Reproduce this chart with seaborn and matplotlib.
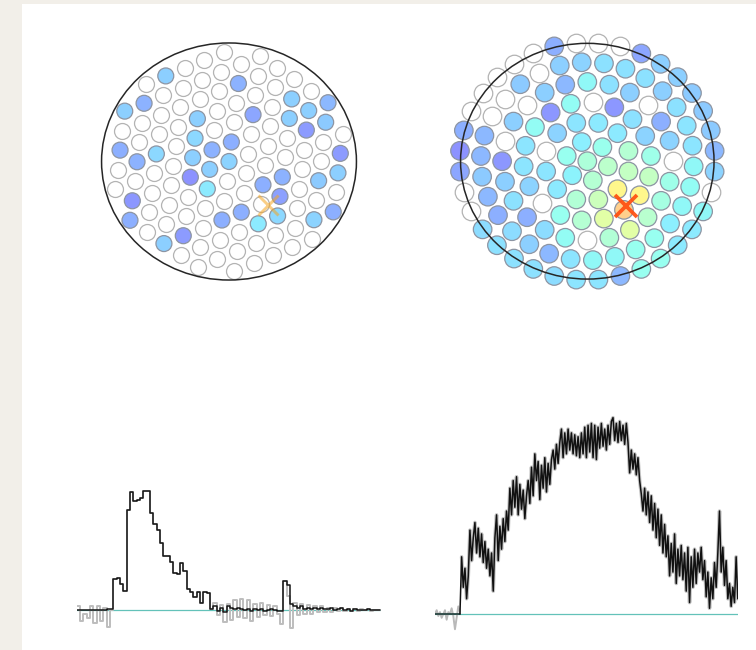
import numpy as np
import pandas as pd
import matplotlib.pyplot as plt
import seaborn as sns
from matplotlib.colors import ListedColormap
from matplotlib.patches import Circle, Rectangle

# ---------------- data ----------------
# left camera: hit pixels on the hex lattice (i, j) and their signal level (0..1 on jet)
left_hit_i = [-4, -5, -6, 0, 3, 5, 4, 1, -2, 3, 5, 4, -2, 0, -6, -1, -4, -5, -2, 0,
              6, -1, -2, 3, 6, 2, 5, -1, -5, 3, 1, 0, 3, 5, 6, -5, 2, -2, -3]
left_hit_j = [-6, -5, -5, -4, -2, -1, -1, -2, -3, -1, 0, 0, -2, -1, -3, -1, -2, -2, -1, 0,
              2, 0, 0, 2, 3, 2, 3, 1, 0, 3, 3, 3, 4, 5, 5, 1, 4, 3, 3]
left_hit_val = [.27, .21, .27, .21, .27, .22, .27, .18, .27, .27, .26, .16, .29, .20, .20, .21, .29, .21, .27, .28,
                .16, .27, .14, .21, .27, .20, .26, .33, .15, .17, .20, .20, .29, .28, .20, .20, .33, .16, .27]
left_core = (1.86, -2.22)

# right camera: concentric rings (ring k has 6k pixels), value per pixel, 0 = no signal
right_ring0 = [.44]
right_ring1 = [.39, .34, .38, .35, .46, .48]
right_ring2 = [.33, .33, .32, .28, 0, .32, .33, .45, .52, .66, .50, .46]
right_ring3 = [.31, .15, 0, .37, .15, .37, .32, .32, .28, 0, .38, .46, .58, .75, .66, .50, .40, .28]
right_ring4 = [0, .27, .31, .36, .22, .27, 0, .27, 0, .15, .27, .31, .20, .30, .37, 0,
               .45, .58, .47, .42, .40, 0, .28, .20]
right_ring5 = [.27, .31, .31, .31, .28, .27, 0, .26, 0, 0, .22, .22, .26, .22, .20,
               .30, .27, .22, .32, .36, .36, .38, .38, .34, .36, .37, .36, .32, .32, .31]
right_ring6 = [.27, .27, .18, 0, 0, 0, .20, 0, 0, 0, 0, 0, .20, .14, .18, 0, 0, .30,
               .31, .31, .31, .30, .32, .32, .22, .38, .38, .33, .33, .36, 0, .28, .22, .26, .26, .26]
right_core = (1.82, -2.27)

# left trace: cleaned signal (black) and raw samples (grey), one value per time bin
left_clean = [0, 0, 0, 0, 0, 0, 0, 0, 0, 0.5, 0.5, 26, 27, 22, 16, 84, 99, 91, 92, 94,
              100, 100, 81, 72, 67, 56, 45, 45, 40, 31, 30, 39, 33, 18, 15, 11, 15, 6, 15, 14,
              1, 3, -1, 2, -2, 3, 2, 1, 2, 1, 0, 1, -1, 1, 0, 1, -1, 0, 1, 0,
              -1, -1, 24, 21, 5, 3, 2, 3, 1, 2, 1, 2, 1, 2, 1, 1, 2, 0, 1, 2,
              0, 1, -1, 1, 0, 0, 0, 1, 0, 0, 0]
left_raw = [3, -9, -3, -7, 3, -11, 3, -9, 2, -14, 0, 26, 27, 22, 16, 84, 99, 91, 92, 94,
            100, 100, 81, 72, 67, 56, 45, 45, 40, 31, 30, 39, 33, 18, 15, 11, 15, 6, 15, 14,
            1, 6, -4, 4, -10, 5, -8, 8, -6, 9, -7, 8, -9, 5, -6, 6, -4, 4, -5, 3,
            -3, -12, 24, 12, -15, 6, -4, 5, -3, 4, -3, 3, -2, 3, -2, 2, -2, 2, -1, 2,
            -1, 1, -1, 1, -1, 1, 0, 1, -1, 0, 0]

# right trace: samples before the pulse (raw) and the pulse itself
right_pre_raw = [0, 2, -1, 1, -2, 0, 2, -3, 1, 0, 3, -1, -8, -2, 4, 1]
right_pulse = [30, 14, 24, 8, 20,
               44, 28, 40, 48, 32, 45, 30, 42, 27, 38, 24, 34, 20, 32, 12,
               40, 52, 28, 46, 34, 50, 38, 54, 44,
               66, 52, 70, 56, 72, 52, 68, 55, 65, 50, 62,
               70, 58, 77, 62, 84, 70, 80, 60, 78, 66, 82, 64, 79, 68, 81,
               86, 76, 89, 79, 90, 97, 82, 95, 84, 97, 86, 95, 84, 94, 83, 93, 82, 95, 84, 98,
               82, 99, 85, 100, 82, 99, 81, 98, 87, 100, 88, 97, 86, 99, 89, 101, 103, 91, 100, 90,
               101, 91, 99, 89, 100,
               90, 74, 86, 76, 84, 73, 82, 70,
               63, 54, 66, 52, 64, 48, 62, 44, 58, 40, 55, 36, 52, 32, 47, 30, 41, 20, 37, 22,
               42, 16, 34, 20, 36, 18, 32, 12, 35, 6, 30, 14, 34, 16, 32, 22, 35, 18, 28, 9,
               22, 3, 19, 8, 27, 14, 32, 54, 22, 35, 15, 28, 8, 16, 4, 14, 6, 30, 8]

# ---------------- styling ----------------
sns.set_theme(style='white')
jet = plt.get_cmap('jet')(np.linspace(0, 1, 256))
soft_jet = ListedColormap(1 - 0.45 * (1 - jet[:, :3]))

W, H = 756, 650
fig = plt.figure(figsize=(W / 100, H / 100), dpi=100)
fig.patch.set_facecolor('#f2efe9')
fig.add_artist(Rectangle((22 / W, 0), 1 - 22 / W, 1 - 4 / H, transform=fig.transFigure,
                         facecolor='white', edgecolor='none', zorder=0))


def px_axes(left, top, width, height):
    ax = fig.add_axes([left / W, 1 - (top + height) / H, width / W, height / H])
    ax.set_facecolor('none')
    ax.axis('off')
    return ax


def draw_camera(ax, df, size, radius, core, core_color, core_alpha, core_ms, core_mew):
    off = df[df.val <= 0]
    on = df[df.val > 0]
    sns.scatterplot(data=off, x='x', y='y', color='white', edgecolor='#b3b3b3',
                    linewidth=0.9, s=size, ax=ax, legend=False, zorder=2)
    sns.scatterplot(data=on, x='x', y='y', hue='val', palette=soft_jet, hue_norm=(0, 1),
                    edgecolor='#8d95a3', linewidth=0.9, s=size, ax=ax, legend=False, zorder=3)
    ax.add_patch(Circle((0, 0), radius, fill=False, edgecolor='#262626', lw=1.1, zorder=4))
    ax.plot(core[0], core[1], marker='x', ms=core_ms, mew=core_mew, color=core_color,
            alpha=core_alpha, zorder=5)
    ax.set_xlim(-6.5, 6.5)
    ax.set_ylim(-6.5, 6.5)
    ax.axis('off')


# left camera (hex lattice rotated by ~23.6 deg)
rot = np.deg2rad(23.6)
A = np.array([np.cos(rot), np.sin(rot)])
B = np.array([np.cos(rot - 2 * np.pi / 3), np.sin(rot - 2 * np.pi / 3)])
hits = {(i, j): v for i, j, v in zip(left_hit_i, left_hit_j, left_hit_val)}
rows = []
for i in range(-7, 8):
    for j in range(-7, 8):
        if i * i + j * j - i * j <= 31:
            p = i * A + j * B
            rows.append((p[0], p[1], hits.get((i, j), 0)))
left_df = pd.DataFrame(rows, columns=['x', 'y', 'val'])

u = 21.1
ax1 = px_axes(229 - 6.5 * u, 161.5 - 6.5 * u * 0.93, 13 * u, 13 * u * 0.93)
draw_camera(ax1, left_df, 132, 6.04, left_core, '#f5a623', 0.55, 15, 2.1)

# right camera (rings)
rows = []
for k, vals in enumerate([right_ring0, right_ring1, right_ring2, right_ring3,
                          right_ring4, right_ring5, right_ring6]):
    n = len(vals)
    for j, v in enumerate(vals):
        ang = np.deg2rad(45 + 360.0 * j / n)
        rows.append((k * np.cos(ang), k * np.sin(ang), v))
right_df = pd.DataFrame(rows, columns=['x', 'y', 'val'])

u = 21.3
ax2 = px_axes(587.3 - 6.5 * u, 161.2 - 6.5 * u * 0.93, 13 * u, 13 * u * 0.93)
draw_camera(ax2, right_df, 178, 5.95, right_core, '#ff4e0f', 0.92, 16, 2.7)

# left trace (step histogram)
ax3 = px_axes(76.7, 478.7, 304.3, 155.2)
tb = np.arange(len(left_raw) + 1)
sns.lineplot(x=tb, y=left_raw + left_raw[-1:], drawstyle='steps-post', color='#bdbdbd',
             lw=1.4, ax=ax3, sort=False)
sns.lineplot(x=tb, y=left_clean + left_clean[-1:], drawstyle='steps-post', color='#151515',
             lw=1.1, ax=ax3, sort=False)
ax3.plot([0, len(left_raw)], [0, 0], color='#63c2b9', lw=0.9, zorder=1)
ax3.set_xlim(0, len(left_raw) + 0.3)
ax3.set_ylim(-20, 110)
ax3.axis('off')

# right trace
ax4 = px_axes(435, 408.1, 303.3, 234.5)
t_pre = np.arange(len(right_pre_raw))
t_pulse = np.arange(len(right_pulse)) + len(right_pre_raw)
sns.lineplot(x=t_pre, y=right_pre_raw, color='#b9b9b9', lw=1.4, ax=ax4, sort=False)
sns.lineplot(x=t_pulse, y=right_pulse, color='#c4c4c4', lw=2.6, ax=ax4, sort=False)
sns.lineplot(x=t_pre, y=np.zeros(len(t_pre)), color='#1d3b38', lw=1.2, ax=ax4, sort=False)
sns.lineplot(x=np.r_[t_pre[-1], t_pulse], y=np.r_[0, right_pulse], color='#111111',
             lw=1.1, ax=ax4, sort=False)
ax4.plot([0, t_pulse[-1]], [0, 0], color='#63c2b9', lw=0.9, zorder=1)
ax4.set_xlim(0, t_pulse[-1] + 0.3)
ax4.set_ylim(-15, 108)
ax4.axis('off')

fig.savefig('out.png', dpi=100, facecolor=fig.get_facecolor())
